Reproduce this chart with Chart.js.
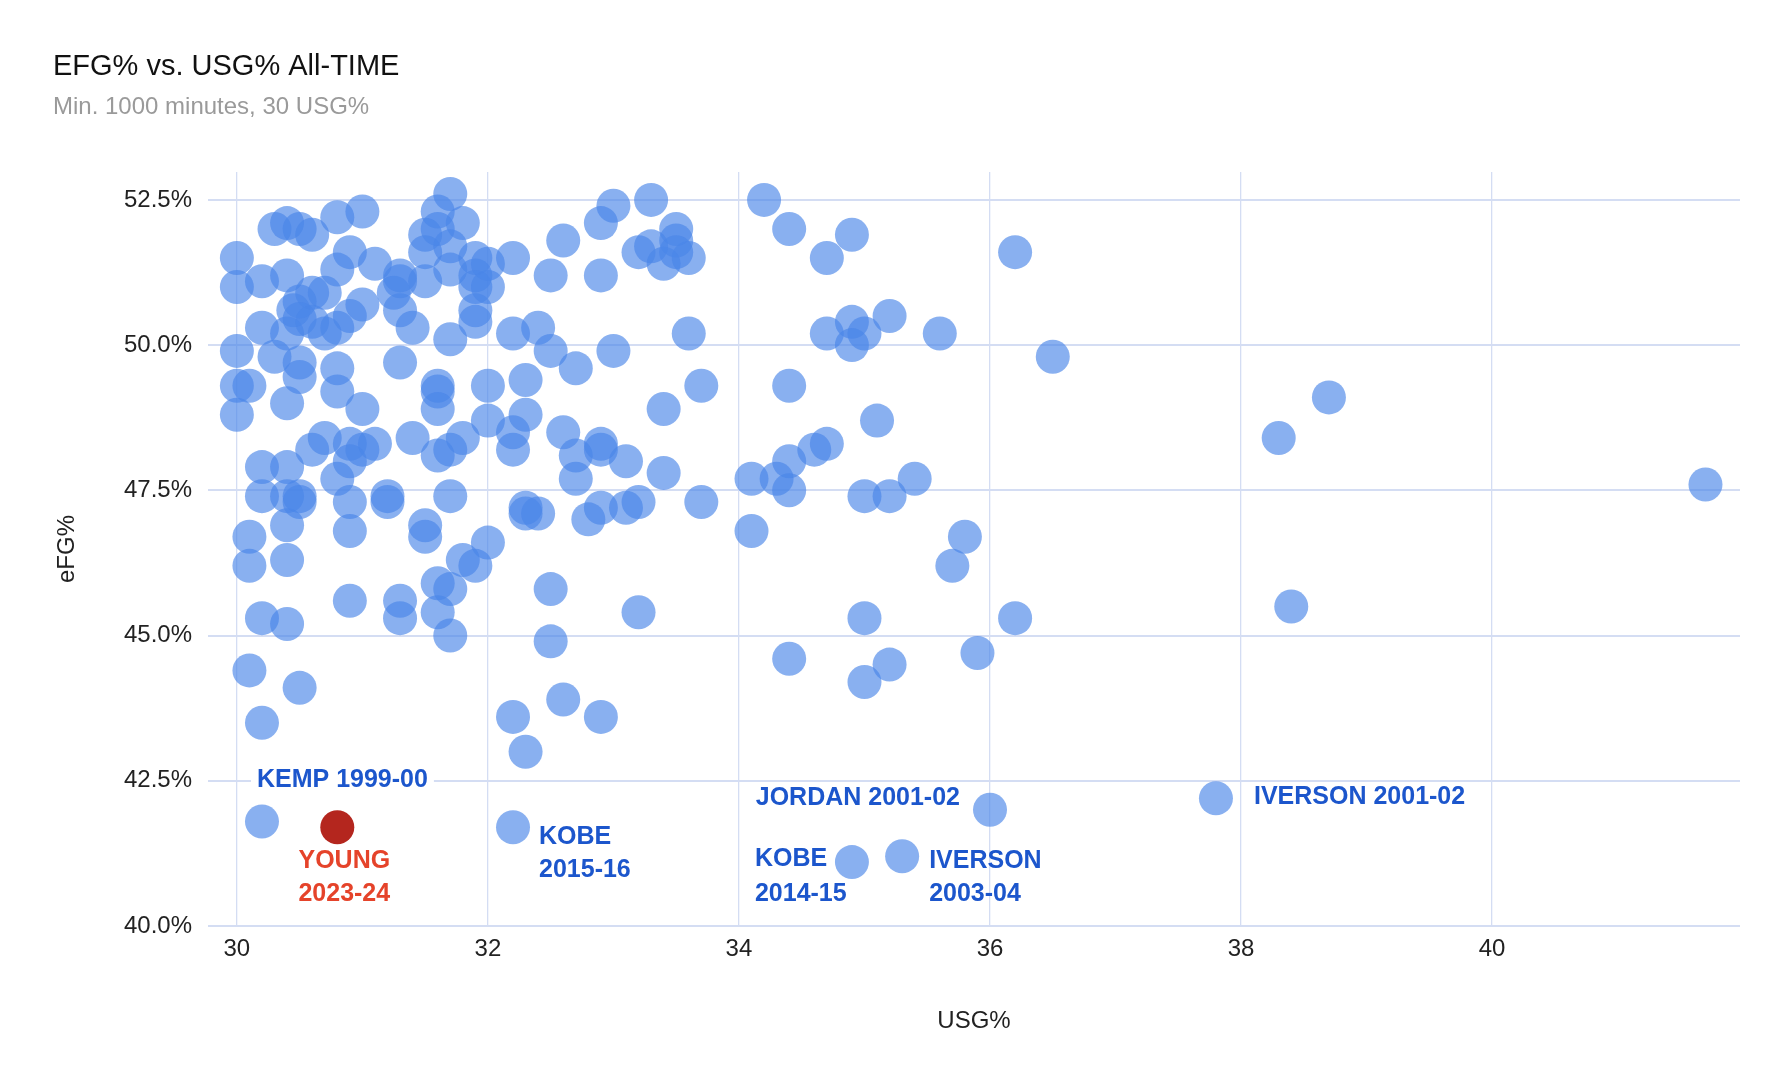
<!DOCTYPE html>
<html>
<head>
<meta charset="utf-8">
<script src="https://cdn.jsdelivr.net/npm/chart.js@4.4.1/dist/chart.umd.min.js"></script>
<style>
html,body{margin:0;padding:0;background:#fff;}
#wrap{width:1790px;height:1088px;}
</style>
</head>
<body>
<div id="wrap"><canvas id="c" width="1790" height="1088"></canvas></div>
<script>
// ---- data ----
const usgValues = [
30.0,30.0,30.0,30.0,30.0,30.1,30.1,30.1,30.1,30.2,30.2,30.2,30.2,30.2,30.2,30.2,30.3,30.3,30.4,30.4,
30.4,30.4,30.4,30.4,30.4,30.4,30.4,30.45,30.5,30.5,30.5,30.5,30.5,30.5,30.5,30.5,30.6,30.6,30.6,30.6,
30.7,30.7,30.7,30.8,30.8,30.8,30.8,30.8,30.8,30.9,30.9,30.9,30.9,30.9,30.9,30.9,31.0,31.0,31.0,31.0,
31.1,31.1,31.2,31.2,31.25,31.3,31.3,31.3,31.3,31.3,31.3,31.4,31.4,31.5,31.5,31.5,31.5,31.5,31.6,31.6,
31.6,31.6,31.6,31.6,31.6,31.6,31.7,31.7,31.7,31.7,31.7,31.7,31.7,31.7,31.8,31.8,31.8,31.9,31.9,31.9,
31.9,31.9,31.9,32.0,32.0,32.0,32.0,32.0,32.2,32.2,32.2,32.2,32.2,32.2,32.3,32.3,32.3,32.3,32.3,32.4,
32.4,32.5,32.5,32.5,32.5,32.6,32.6,32.6,32.7,32.7,32.7,32.8,32.9,32.9,32.9,32.9,32.9,32.9,33.0,33.0,
33.1,33.1,33.2,33.2,33.2,33.3,33.3,33.4,33.4,33.4,33.5,33.5,33.5,33.6,33.6,33.7,33.7,34.1,34.1,34.2,
34.3,34.4,34.4,34.4,34.4,34.4,34.6,34.7,34.7,34.7,34.9,34.9,34.9,34.9,35.0,35.0,35.0,35.0,35.1,35.2,
35.2,35.2,35.3,35.4,35.6,35.7,35.8,35.9,36.0,36.2,36.2,36.5,37.8,38.3,38.4,38.7,41.7
];
const efgValues = [
51.5,51.0,49.9,49.3,48.8,49.3,46.7,46.2,44.4,51.1,50.3,47.9,47.4,45.3,43.5,41.8,52.0,49.8,52.1,51.2,
50.2,49.0,47.9,47.4,46.9,46.3,45.2,50.6,52.0,50.75,50.45,49.7,49.45,47.4,47.3,44.1,51.9,50.9,50.4,48.2,
50.9,50.2,48.4,52.2,51.3,50.3,49.6,49.2,47.7,51.6,50.5,48.3,48.0,47.3,46.8,45.6,52.3,50.7,48.9,48.2,
51.4,48.3,47.4,47.3,50.9,51.2,51.1,50.6,49.7,45.6,45.3,50.3,48.4,51.9,51.6,51.1,46.9,46.7,52.3,52.0,
49.3,49.2,48.9,48.1,45.9,45.4,52.6,51.7,51.3,50.1,48.2,47.4,45.8,45.0,52.1,48.4,46.3,51.5,51.2,51.0,
50.6,50.4,46.2,51.4,51.0,49.3,48.7,46.6,51.5,50.2,48.5,48.2,43.6,41.7,49.4,48.8,47.2,47.1,43.0,50.3,
47.1,51.2,49.9,45.8,44.9,51.8,48.5,43.9,49.6,48.1,47.7,47.0,52.1,51.2,48.3,48.2,47.2,43.6,52.4,49.9,
48.0,47.2,51.6,47.3,45.4,52.5,51.7,51.4,48.9,47.8,52.0,51.8,51.6,51.5,50.2,49.3,47.3,47.7,46.8,52.5,
47.7,52.0,49.3,48.0,47.5,44.6,48.2,51.5,50.2,48.3,51.9,50.4,50.0,41.1,50.2,47.4,45.3,44.2,48.7,50.5,
47.4,44.5,41.2,47.7,50.2,46.2,46.7,44.7,42.0,51.6,45.3,49.8,42.2,48.4,45.5,49.1,47.6
];
const youngUsg = [30.8];
const youngEfg = [41.7];

const xTickValues = [30, 32, 34, 36, 38, 40];
const yTickValues = [40, 42.5, 45, 47.5, 50, 52.5];

const noteTexts = [
  ["KEMP 1999-00"],
  ["YOUNG", "2023-24"],
  ["KOBE", "2015-16"],
  ["KOBE", "2014-15"],
  ["IVERSON", "2003-04"],
  ["JORDAN 2001-02"],
  ["IVERSON 2001-02"]
];
const noteUsg = [30.2, 30.8, 32.2, 34.9, 35.3, 36.0, 37.8];
const noteEfg = [41.8, 41.7, 41.7, 41.1, 41.2, 42.0, 42.2];

// ---- styles ----
const FONT = '"Liberation Sans", Arial, Helvetica, sans-serif';
const BLUE_TXT = '#1c56cc';
const RED_TXT = '#e5432a';
const GRID = '#d4ddf3';
const noteStyles = [
  {align:'left',   dx:-5,   dy:-41, gap:33, color:BLUE_TXT, bg:true},
  {align:'center', dx:7,    dy:34,  gap:33, color:RED_TXT,  bg:false},
  {align:'left',   dx:26,   dy:10,  gap:33, color:BLUE_TXT, bg:false},
  {align:'left',   dx:-97,  dy:-3,  gap:35, color:BLUE_TXT, bg:false},
  {align:'left',   dx:27,   dy:5,   gap:33, color:BLUE_TXT, bg:false},
  {align:'right',  dx:-30,  dy:-12, gap:33, color:BLUE_TXT, bg:false},
  {align:'left',   dx:38,   dy:-1,  gap:33, color:BLUE_TXT, bg:false}
];

const notePlugin = {
  id: 'notes',
  afterDatasetsDraw(chart) {
    const {ctx, scales: {x, y}} = chart;
    ctx.save();
    ctx.font = 'bold 25px ' + FONT;
    ctx.textBaseline = 'middle';
    ctx.textAlign = 'left';
    noteTexts.forEach((lines, i) => {
      const st = noteStyles[i];
      const px = x.getPixelForValue(noteUsg[i]) + st.dx;
      const py = y.getPixelForValue(noteEfg[i]) + st.dy;
      lines.forEach((t, j) => {
        const ly = py + j * st.gap;
        const w = ctx.measureText(t).width;
        const left = st.align === 'left' ? px : (st.align === 'right' ? px - w : px - w / 2);
        if (st.bg) {
          ctx.fillStyle = '#ffffff';
          ctx.fillRect(left - 6, ly - 13, w + 12, 26);
        }
        ctx.fillStyle = st.color;
        ctx.fillText(t, left, ly);
      });
    });
    ctx.restore();
  }
};

new Chart(document.getElementById('c').getContext('2d'), {
  type: 'scatter',
  data: {
    datasets: [
      {
        label: 'Seasons',
        data: usgValues.map((u, i) => ({x: u, y: efgValues[i]})),
        backgroundColor: 'rgba(74,134,232,0.65)',
        borderWidth: 0,
        pointRadius: 17,
        pointHoverRadius: 17
      },
      {
        label: 'Young 2023-24',
        data: youngUsg.map((u, i) => ({x: u, y: youngEfg[i]})),
        backgroundColor: '#b4261e',
        borderWidth: 0,
        pointRadius: 17,
        pointHoverRadius: 17
      }
    ]
  },
  options: {
    responsive: false,
    animation: false,
    devicePixelRatio: 1,
    layout: {padding: {left: 53, right: 50, top: 0, bottom: 0}},
    plugins: {
      legend: {display: false},
      tooltip: {enabled: false},
      title: {
        display: true, text: 'EFG% vs. USG% All-TIME', align: 'start', color: '#111',
        font: {family: FONT, size: 29, weight: 'normal'}, padding: {top: 50, bottom: 0}
      },
      subtitle: {
        display: true, text: 'Min. 1000 minutes, 30 USG%', align: 'start', color: '#9a9a9a',
        font: {family: FONT, size: 24, weight: 'normal'}, padding: {top: 8, bottom: 50.4}
      }
    },
    scales: {
      x: {
        type: 'linear', min: 29.77, max: 41.975,
        afterBuildTicks: s => { s.ticks = xTickValues.map(v => ({value: v})); },
        afterFit: s => { s.height = 162; },
        grid: {color: GRID, lineWidth: 1.3, drawTicks: false},
        border: {display: false},
        ticks: {padding: 9, color: '#222', font: {family: FONT, size: 24}, maxRotation: 0, autoSkip: false},
        title: {display: true, text: 'USG%', color: '#222', font: {family: FONT, size: 24}, padding: {top: 0, bottom: 52.6}}
      },
      y: {
        type: 'linear', min: 40, max: 52.98,
        afterBuildTicks: s => { s.ticks = yTickValues.map(v => ({value: v})); },
        afterFit: s => { s.width = 155; },
        grid: {color: GRID, lineWidth: 2, drawTicks: false},
        border: {display: false},
        ticks: {padding: 16, color: '#222', font: {family: FONT, size: 24}, callback: v => Number(v).toFixed(1) + '%'},
        title: {display: true, text: 'eFG%', color: '#222', font: {family: FONT, size: 24}, padding: {top: 0, bottom: 0}}
      }
    }
  },
  plugins: [notePlugin]
});
</script>
</body>
</html>
